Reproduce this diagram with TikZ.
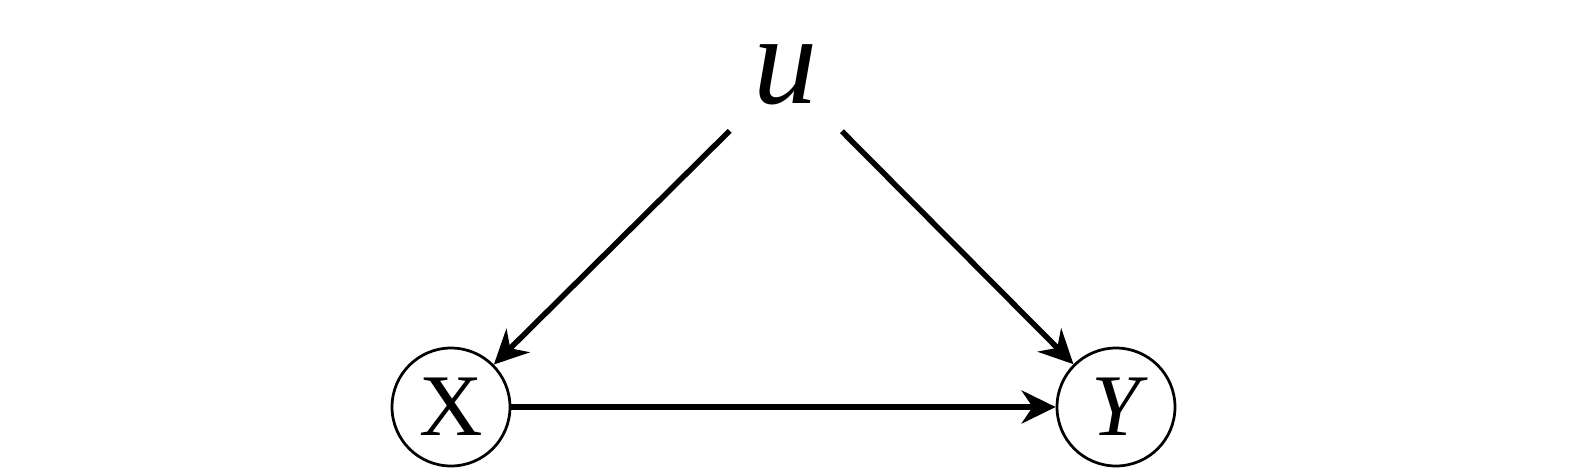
\documentclass[tikz,border=0pt]{standalone}
\usepackage{fontspec}
\setmainfont{Liberation Serif}
\usepackage{tikz}
\usetikzlibrary{arrows.meta}
\usetikzlibrary{positioning}
\definecolor{myblack}{HTML}{000000}
\tikzset{every text node part/.style={align=center}}
\tikzstyle{var} = [circle, draw=myblack, line width=0.055cm, minimum size=2.36cm, inner sep=0pt, font={\fontsize{50}{50}\selectfont}]
\tikzstyle{ln} = [draw=myblack, line width=0.11cm, -{Stealth[length=0.68cm, width=0.66cm, inset=0.22cm]}]
\begin{document}
\begin{tikzpicture}[
    x=0.02cm, y=-0.02cm,
    hidden/.style={circle, minimum size=3.16cm, inner sep=0pt, font={\fontsize{73}{73}\selectfont\itshape}}
  ]
  \useasboundingbox (0,0) rectangle (1572,468);

  % Define hidden cause
  \node[hidden] (u) at (786,75) {u};

  % Define treatment and outcome
  \node[var] (x) at (451,407) {X};
  \node[var] (y) at (1116,407) {\itshape Y};

  % Draw lines
  \draw[ln] (u) -- (x);
  \draw[ln] (u) -- (y);
  \draw[ln] (x) -- (y);

\end{tikzpicture}
\end{document}
